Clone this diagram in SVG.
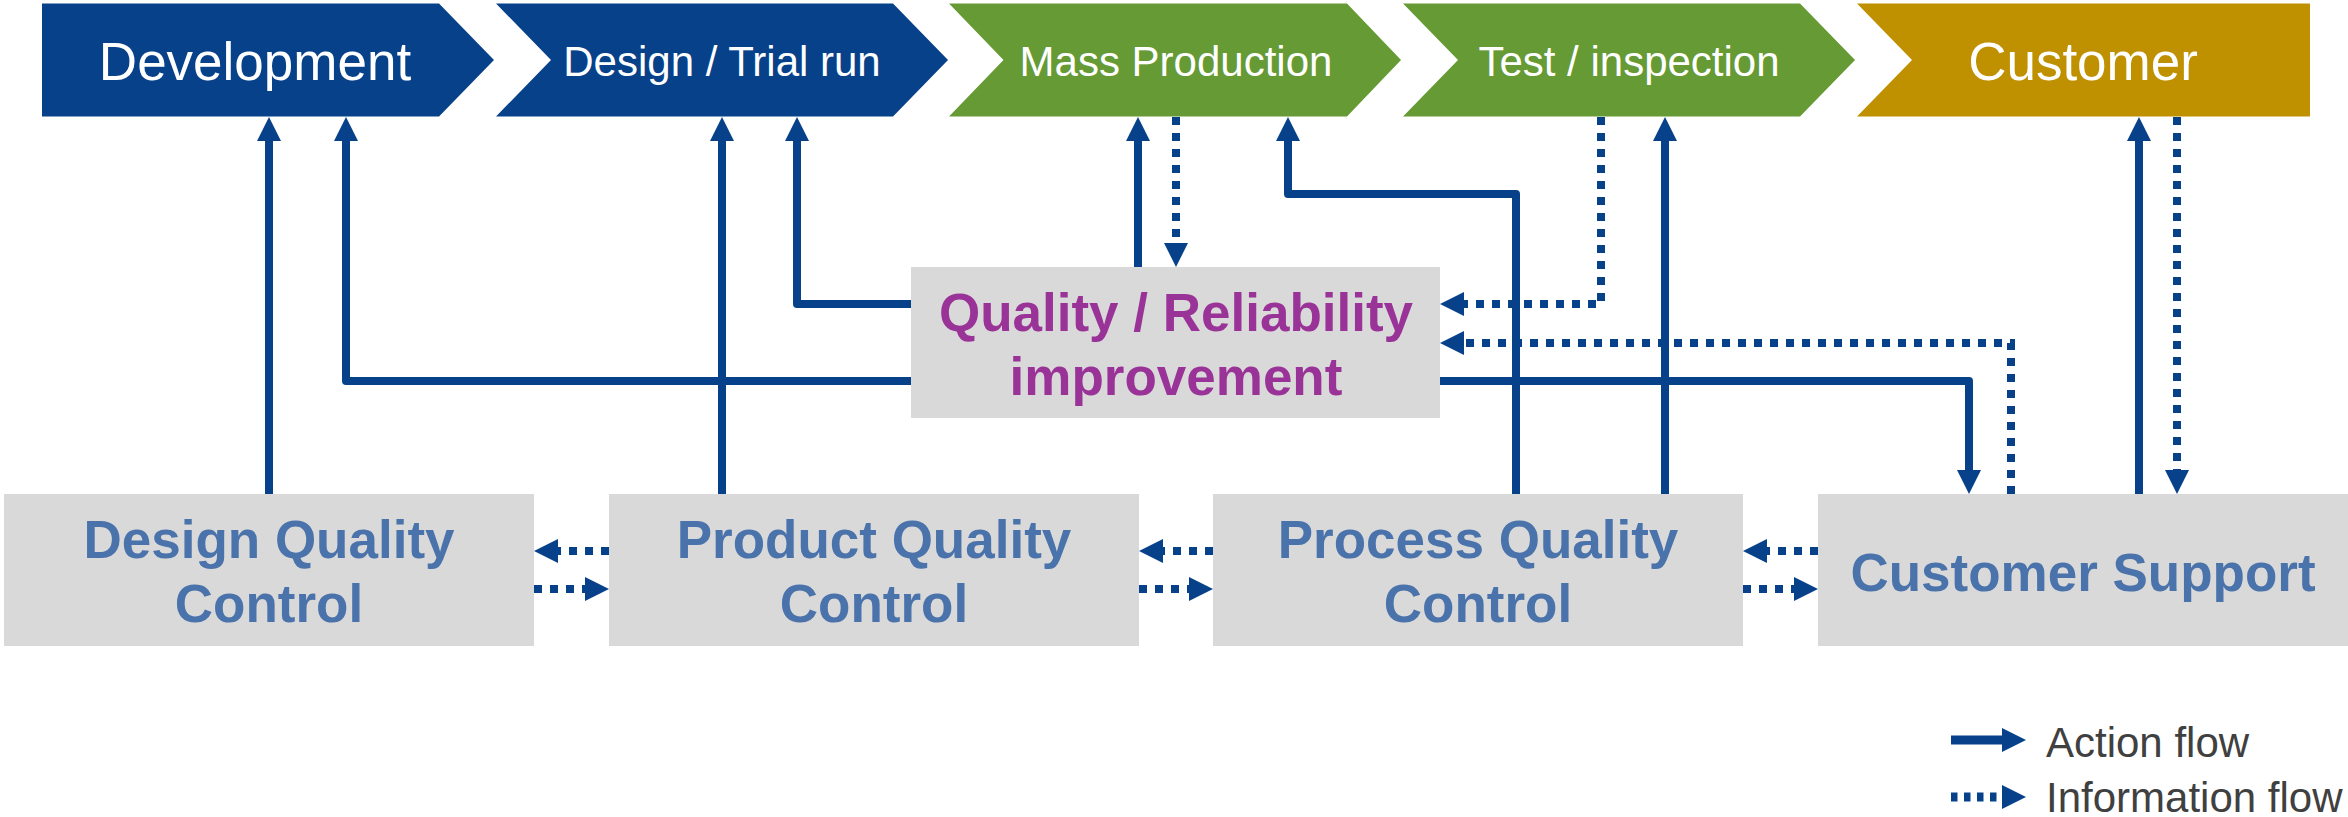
<svg xmlns="http://www.w3.org/2000/svg" width="2348" height="817" viewBox="0 0 2348 817">
<style>
.blue{fill:#07418A}
.green{fill:#669A34}
.gold{fill:#BF9000}
.box{fill:#D9D9D9}
.ht{font-family:"Liberation Sans",Arial,sans-serif;fill:#FFFFFF;text-anchor:middle}
.bt{font-family:"Liberation Sans",Arial,sans-serif;font-weight:bold;font-size:53px;fill:#4A72AB;text-anchor:middle}
.qt{font-family:"Liberation Sans",Arial,sans-serif;font-weight:bold;font-size:53px;fill:#9A3397;text-anchor:middle}
.lt{font-family:"Liberation Sans",Arial,sans-serif;font-size:42px;fill:#404040}
.act{fill:none;stroke:#07418A;stroke-width:8;stroke-linejoin:round}
.info{fill:none;stroke:#07418A;stroke-width:8;stroke-dasharray:8 8;stroke-linejoin:miter}
</style>
<defs>
<marker id="ah" markerUnits="userSpaceOnUse" markerWidth="24" markerHeight="24" viewBox="0 0 24 24" refX="0" refY="12" orient="auto" overflow="visible">
<path d="M0,0 L24,12 L0,24 Z" fill="#07418A"/>
</marker>
</defs>
<rect width="2348" height="817" fill="#FFFFFF"/>
<g id="connectors">
<path class="act" d="M269,494 V141" marker-end="url(#ah)"/>
<path class="act" d="M911,381 H346 V141" marker-end="url(#ah)"/>
<path class="act" d="M722,494 V141" marker-end="url(#ah)"/>
<path class="act" d="M911,304 H797 V141" marker-end="url(#ah)"/>
<path class="act" d="M1138,267 V141" marker-end="url(#ah)"/>
<path class="info" d="M1176,117 V243" marker-end="url(#ah)"/>
<path class="act" d="M1516,494 V194 H1288 V141" marker-end="url(#ah)"/>
<path class="act" d="M1665,494 V141" marker-end="url(#ah)"/>
<path class="info" d="M1601,117 V304 H1464" marker-end="url(#ah)"/>
<path class="info" d="M2011,494 V343 H1464" marker-end="url(#ah)"/>
<path class="act" d="M1440,381 H1969 V470" marker-end="url(#ah)"/>
<path class="act" d="M2139,494 V141" marker-end="url(#ah)"/>
<path class="info" d="M2177,117 V470" marker-end="url(#ah)"/>
<path class="info" d="M609,551 H558" marker-end="url(#ah)"/>
<path class="info" d="M534,589 H585" marker-end="url(#ah)"/>
<path class="info" d="M1213,551 H1163" marker-end="url(#ah)"/>
<path class="info" d="M1139,589 H1189" marker-end="url(#ah)"/>
<path class="info" d="M1818,551 H1767" marker-end="url(#ah)"/>
<path class="info" d="M1743,589 H1794" marker-end="url(#ah)"/>
</g>
<g id="development">
<path class="blue" d="M42,3.5 H439 L494,60 L439,116.5 H42 Z"/>
<text class="ht" x="255" y="80" font-size="53">Development</text>
</g>
<g id="design-trial">
<path class="blue" d="M496,3.5 H893 L948,60 L893,116.5 H496 L551,60 Z"/>
<text class="ht" x="722" y="76" font-size="42">Design / Trial run</text>
</g>
<g id="mass-production">
<path class="green" d="M949,3.5 H1347 L1401,60 L1347,116.5 H949 L1003.5,60 Z"/>
<text class="ht" x="1176" y="76" font-size="42">Mass Production</text>
</g>
<g id="test-inspection">
<path class="green" d="M1403,3.5 H1800 L1855,60 L1800,116.5 H1403 L1458,60 Z"/>
<text class="ht" x="1629" y="76" font-size="42">Test / inspection</text>
</g>
<g id="customer">
<path class="gold" d="M1857,3.5 H2310 V116.5 H1857 L1912,60 Z"/>
<text class="ht" x="2083" y="80" font-size="53">Customer</text>
</g>
<g id="quality-improvement">
<rect class="box" x="911" y="267" width="529" height="151"/>
<text class="qt" x="1176" y="331">Quality / Reliability</text>
<text class="qt" x="1176" y="395">improvement</text>
</g>
<g id="design-qc">
<rect class="box" x="4" y="494" width="530" height="152"/>
<text class="bt" x="269" y="558">Design Quality</text>
<text class="bt" x="269" y="622">Control</text>
</g>
<g id="product-qc">
<rect class="box" x="609" y="494" width="530" height="152"/>
<text class="bt" x="874" y="558">Product Quality</text>
<text class="bt" x="874" y="622">Control</text>
</g>
<g id="process-qc">
<rect class="box" x="1213" y="494" width="530" height="152"/>
<text class="bt" x="1478" y="558">Process Quality</text>
<text class="bt" x="1478" y="622">Control</text>
</g>
<g id="customer-support">
<rect class="box" x="1818" y="494" width="530" height="152"/>
<text class="bt" x="2083" y="591">Customer Support</text>
</g>
<g id="legend">
<path d="M1951,740 H2002" fill="none" stroke="#07418A" stroke-width="9" marker-end="url(#ah)"/>
<path d="M1951,797 H2002" fill="none" stroke="#07418A" stroke-width="9" stroke-dasharray="6.5 6.5" marker-end="url(#ah)"/>
<text class="lt" x="2046" y="757">Action flow</text>
<text class="lt" x="2046" y="812">Information flow</text>
</g>
</svg>
